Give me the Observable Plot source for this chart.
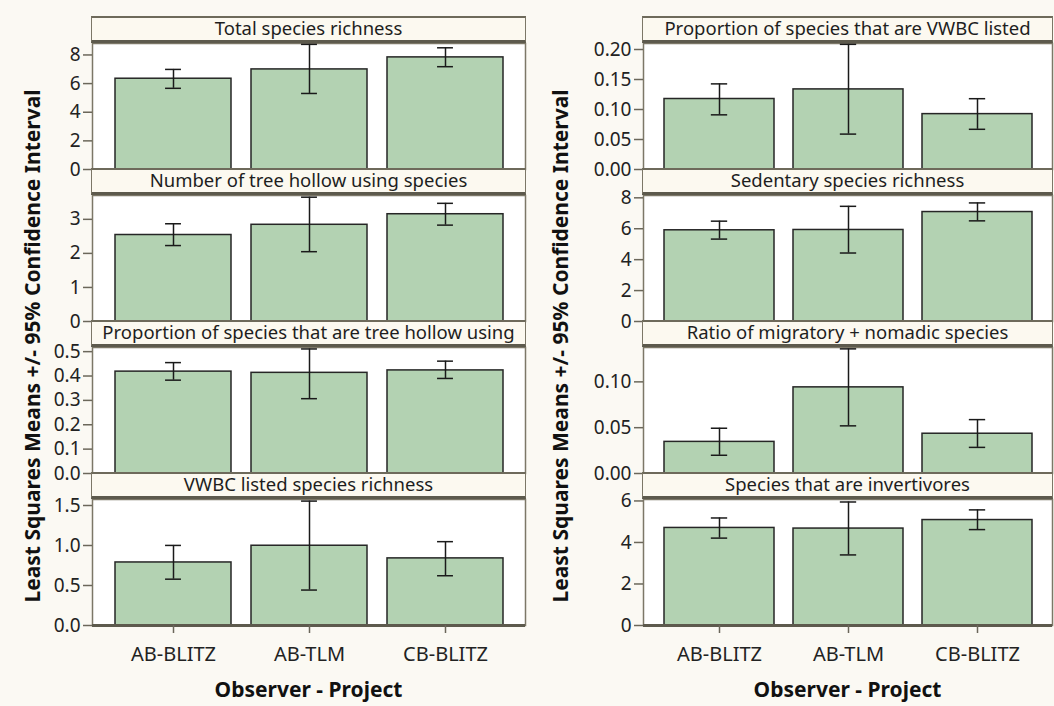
<!DOCTYPE html>
<html>
<head>
<meta charset="utf-8">
<script src="https://cdn.jsdelivr.net/npm/d3@7"></script>
<script src="https://cdn.jsdelivr.net/npm/@observablehq/plot@0.6"></script>
<style>
  body { margin: 0; background: #fbf9f3; }
  #chart { position: relative; width: 1054px; height: 706px; background: #fbf9f3; overflow: hidden;
           font-family: "Noto Sans", sans-serif; }
  #chart svg { position: absolute; }
  .strip { position: absolute; box-sizing: border-box; background: #fcf9f0;
           border-left: 1.5px solid #7c7767; border-right: 1.5px solid #7c7767;
           border-top: 2px solid #6e6a5b; border-bottom: 3px solid #5d5a4d;
           text-align: center; font-size: 18.5px; line-height: 20px; color: #1e1e1e; white-space: nowrap; }
  .ytitle { position: absolute; font-weight: bold; font-size: 21px; color: #111; white-space: nowrap;
            transform: translate(-50%, -50%) rotate(-90deg); }
  .xtitle { position: absolute; font-weight: bold; font-size: 21px; color: #111; white-space: nowrap;
            transform: translate(-50%, -50%); }
</style>
</head>
<body>
<div id="chart"></div>
<script>
// Observer - project groups on the x axis
const groups = ["AB-BLITZ", "AB-TLM", "CB-BLITZ"];

// Panel titles: left column top to bottom, then right column top to bottom
const titles = [
  "Total species richness",
  "Number of tree hollow using species",
  "Proportion of species that are tree hollow using",
  "VWBC listed species richness",
  "Proportion of species that are VWBC listed",
  "Sedentary species richness",
  "Ratio of migratory + nomadic species",
  "Species that are invertivores"
];

// Least squares means per panel (one value per group)
const means = [
  [6.34, 6.99, 7.83],
  [2.54, 2.84, 3.15],
  [0.418, 0.413, 0.423],
  [0.788, 0.997, 0.839],
  [0.1175, 0.1335, 0.0923],
  [5.90, 5.92, 7.08],
  [0.0345, 0.094, 0.0434],
  [4.70, 4.67, 5.08]
];

// Lower and upper 95% confidence limits
const lower = [
  [5.67, 5.31, 7.18],
  [2.23, 2.05, 2.83],
  [0.383, 0.307, 0.390],
  [0.579, 0.443, 0.622],
  [0.0911, 0.059, 0.067],
  [5.33, 4.43, 6.51],
  [0.0199, 0.052, 0.0285],
  [4.21, 3.40, 4.62]
];
const upper = [
  [6.99, 8.74, 8.50],
  [2.87, 3.65, 3.47],
  [0.455, 0.511, 0.461],
  [1.001, 1.555, 1.048],
  [0.1427, 0.2086, 0.118],
  [6.49, 7.45, 7.67],
  [0.0494, 0.136, 0.0588],
  [5.18, 5.95, 5.57]
];

// Y tick labels and the top of each panel's y range
const yTicks = [
  [0, 2, 4, 6, 8],
  [0, 1, 2, 3],
  [0, 0.1, 0.2, 0.3, 0.4, 0.5],
  [0, 0.5, 1.0, 1.5],
  [0, 0.05, 0.10, 0.15, 0.20],
  [0, 2, 4, 6, 8],
  [0, 0.05, 0.10],
  [0, 2, 4, 6]
];
const yFormats = ["d", "d", ".1f", ".1f", ".2f", "d", ".2f", "d"];
const yMax = [8.8, 3.7, 0.517, 1.575, 0.21, 8.15, 0.1375, 6.07];

const chart = document.getElementById("chart");

// layout of the two columns of stacked panels
const cols = [{frameL: 92, frameR: 525, titleX: 32}, {frameL: 643, frameR: 1052, titleX: 560}];
const top0 = 16.5, blockH = 152, stripH = 26;
const mL = 90, mR = 2, mT = 8;
const padIn = 0.15, padOut = 0.16, capW = 16;
const lineCol = "#7c7767", zeroCol = "#5d5a4d";

for (let p = 0; p < titles.length; p++) {
  const c = Math.floor(p / 4), r = p % 4;
  const {frameL, frameR} = cols[c];
  const frameW = frameR - frameL;
  const bottomRow = r === 3;
  const mB = bottomRow ? 46 : 8;
  const plotH = blockH - stripH;
  const blockTop = top0 + r * blockH;

  const rows = groups.map((g, i) => ({group: g, mean: means[p][i], lo: lower[p][i], hi: upper[p][i]}));

  const step = frameW / (groups.length - padIn + 2 * padOut);
  const capInset = (step * (1 - padIn) - capW) / 2;

  const marks = [
    Plot.frame({fill: "white", stroke: lineCol, strokeWidth: 1.5}),
    Plot.barY(rows, {x: "group", y: "mean", fill: "#b3d2b2", stroke: "#262626", strokeWidth: 1.5}),
    Plot.ruleX(rows, {x: "group", y1: "lo", y2: "hi", stroke: "#1a1a1a", strokeWidth: 1.5}),
    Plot.tickY(rows, {x: "group", y: "hi", insetLeft: capInset, insetRight: capInset, stroke: "#1a1a1a", strokeWidth: 1.5}),
    Plot.tickY(rows, {x: "group", y: "lo", insetLeft: capInset, insetRight: capInset, stroke: "#1a1a1a", strokeWidth: 1.5}),
    Plot.axisY({ticks: yTicks[p], tickFormat: d3.format(yFormats[p]), tickSize: 9, tickPadding: 3,
                label: null, stroke: "#6b675a", strokeWidth: 1.5, fill: "#222", fontSize: 19}),
    Plot.ruleY([0], {stroke: zeroCol, strokeWidth: 3})
  ];
  if (bottomRow) {
    marks.push(Plot.axisX({tickSize: 8, tickPadding: 13, label: null, stroke: "#6b675a", strokeWidth: 1.5,
                           fill: "#222", fontSize: 20}));
  }

  const svg = Plot.plot({
    width: mL + frameW + mR,
    height: mT + plotH + mB,
    marginLeft: mL, marginRight: mR, marginTop: mT, marginBottom: mB,
    style: {fontFamily: "Noto Sans, sans-serif", fontSize: "19px", background: "transparent", overflow: "visible", color: "#222"},
    x: {domain: groups, paddingInner: padIn, paddingOuter: padOut, ...(bottomRow ? {} : {axis: null})},
    y: {domain: [0, yMax[p]]},
    marks
  });
  svg.style.left = (frameL - mL) + "px";
  svg.style.top = (blockTop + stripH - mT) + "px";
  chart.appendChild(svg);

  const strip = document.createElement("div");
  strip.className = "strip";
  strip.textContent = titles[p];
  strip.style.left = (frameL - 0.75) + "px";
  strip.style.width = (frameW + 1.5) + "px";
  strip.style.top = (blockTop - 1) + "px";
  strip.style.height = (stripH + 1.5) + "px";
  chart.appendChild(strip);
}

// shared axis titles for each column
for (const {frameL, frameR, titleX} of cols) {
  const yt = document.createElement("div");
  yt.className = "ytitle";
  yt.textContent = "Least Squares Means +/- 95% Confidence Interval";
  yt.style.left = titleX + "px";
  yt.style.top = "346px";
  chart.appendChild(yt);

  const xt = document.createElement("div");
  xt.className = "xtitle";
  xt.textContent = "Observer - Project";
  xt.style.left = ((frameL + frameR) / 2) + "px";
  xt.style.top = "689px";
  chart.appendChild(xt);
}
</script>
</body>
</html>
